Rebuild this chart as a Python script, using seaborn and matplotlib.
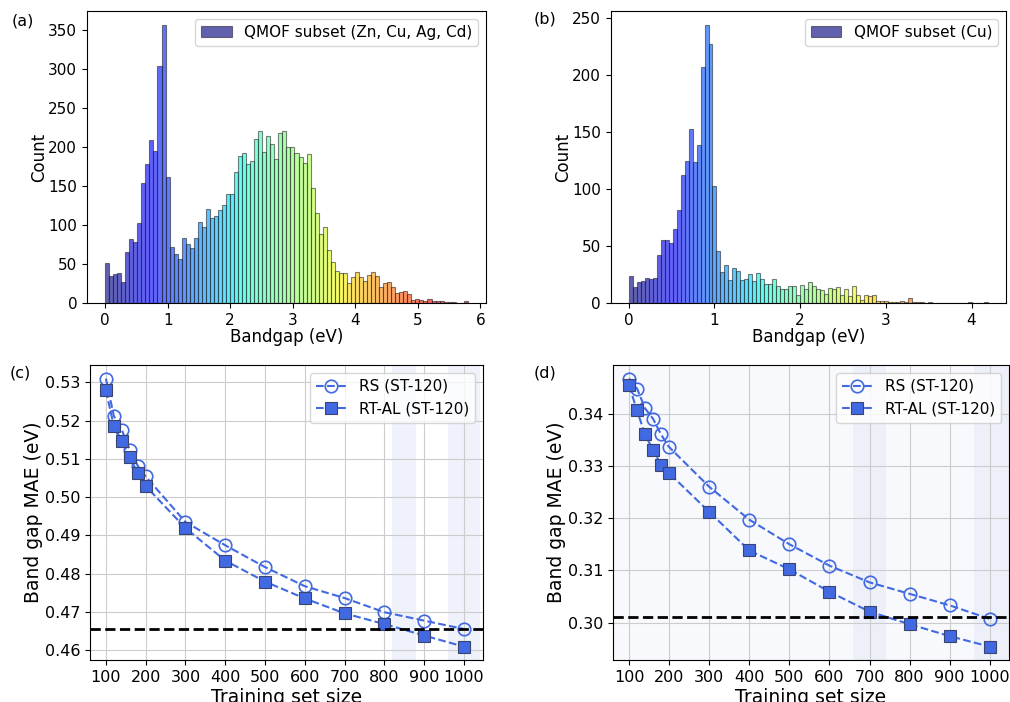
import numpy as np
import pandas as pd
import matplotlib
matplotlib.use('Agg')
import matplotlib.pyplot as plt
import seaborn as sns

# ==================== data ====================
# (a) bandgap histogram, QMOF subset (Zn, Cu, Ag, Cd): 90 bins from 0 to 5.8 eV
a_max_gap = 5.8
a_counts = [51, 35, 37, 38, 27, 66, 82, 78, 103, 154,
            178, 209, 195, 304, 357, 162, 72, 63, 57, 84,
            76, 71, 84, 104, 97, 121, 109, 112, 120, 126,
            140, 140, 168, 189, 192, 178, 182, 210, 221, 194,
            215, 204, 185, 218, 221, 200, 200, 192, 188, 180,
            191, 148, 115, 88, 97, 68, 53, 41, 38, 38,
            26, 33, 40, 34, 28, 36, 40, 35, 20, 26,
            27, 21, 13, 14, 15, 11, 4, 5, 4, 3,
            5, 3, 3, 2, 1, 1, 1, 0, 0, 2]

# (b) bandgap histogram, QMOF subset (Cu): 90 bins from 0 to 4.19 eV
b_max_gap = 4.19
b_counts = [24, 14, 18, 19, 22, 21, 22, 42, 55, 55,
            53, 65, 82, 112, 125, 153, 124, 139, 207, 244,
            227, 103, 46, 27, 33, 20, 31, 28, 20, 21,
            25, 19, 26, 21, 17, 17, 21, 15, 12, 12,
            15, 15, 7, 16, 12, 18, 15, 12, 11, 8,
            13, 12, 14, 7, 12, 6, 15, 7, 3, 7,
            6, 7, 2, 2, 2, 1, 1, 1, 2, 1,
            4, 1, 1, 1, 0, 1, 0, 0, 0, 0,
            0, 0, 0, 0, 0, 1, 0, 0, 0, 1]

# (c), (d) learning curves
train_sizes = [100, 120, 140, 160, 180, 200, 300, 400, 500, 600, 700, 800, 900, 1000]

c_rs = [0.5310, 0.5212, 0.5176, 0.5123, 0.5082, 0.5054, 0.4935,
        0.4874, 0.4817, 0.4767, 0.4736, 0.4699, 0.4677, 0.4655]
c_rtal = [0.5279, 0.5186, 0.5147, 0.5104, 0.5063, 0.5029, 0.4919,
          0.4834, 0.4779, 0.4735, 0.4696, 0.4668, 0.4638, 0.4609]
c_ref = 0.4655
c_spans = [(820, 880), (960, 1040)]

d_rs = [0.3467, 0.3448, 0.3410, 0.3390, 0.3360, 0.3336, 0.3260,
        0.3197, 0.3150, 0.3109, 0.3077, 0.3055, 0.3033, 0.3007]
d_rtal = [0.3454, 0.3406, 0.3360, 0.3330, 0.3302, 0.3286, 0.3212,
          0.3138, 0.3102, 0.3059, 0.3021, 0.2997, 0.2974, 0.2954]
d_ref = 0.3011
d_spans = [(660, 740), (960, 1060)]

# ==================== figure ====================
fig = plt.figure(figsize=(10.1, 7.02), dpi=100)
ax_a = fig.add_axes([0.0861, 0.5684, 0.3950, 0.4159])
ax_b = fig.add_axes([0.6047, 0.5684, 0.3911, 0.4159])
ax_c = fig.add_axes([0.0891, 0.0598, 0.3891, 0.4200])
ax_d = fig.add_axes([0.6069, 0.0598, 0.3921, 0.4200])

cmap = plt.get_cmap('jet')


def bandgap_hist(ax, counts, max_gap, label):
    n = len(counts)
    width = max_gap / n
    df = pd.DataFrame({'gap': (np.arange(n) + 0.5) * width, 'count': counts})
    sns.histplot(data=df, x='gap', weights='count', bins=n, binrange=(0, max_gap),
                 ax=ax, linewidth=0.8)
    bars = ax.patches
    for i, p in enumerate(bars):
        r, g, b, _ = cmap(i / (len(bars) - 1))
        p.set_facecolor((r, g, b, 0.62))
        p.set_edgecolor((0.1, 0.1, 0.1, 0.55))
    ax.legend([bars[0]], [label], loc='upper right', fontsize=11)
    ax.set_xlabel('Bandgap (eV)', fontsize=12, labelpad=0)
    ax.set_ylabel('Count', fontsize=12, labelpad=0)
    ax.tick_params(labelsize=11)


bandgap_hist(ax_a, a_counts, a_max_gap, 'QMOF subset (Zn, Cu, Ag, Cd)')
bandgap_hist(ax_b, b_counts, b_max_gap, 'QMOF subset (Cu)')


def learning_curve(ax, rs, rtal, ref, spans, bg):
    ax.set_facecolor(bg)
    for lo, hi in spans:
        ax.axvspan(lo, hi, color='#e9edf8', alpha=0.7, lw=0, zorder=0)
    sns.lineplot(x=train_sizes, y=rs, ax=ax, color='royalblue', linestyle='--',
                 linewidth=1.5, marker='o', markersize=9, markerfacecolor='none',
                 markeredgecolor='royalblue', markeredgewidth=1.2, label='RS (ST-120)')
    sns.lineplot(x=train_sizes, y=rtal, ax=ax, color='royalblue', linestyle='--',
                 linewidth=1.5, marker='s', markersize=9, markerfacecolor='royalblue',
                 markeredgecolor='#3a4470', markeredgewidth=0.8, label='RT-AL (ST-120)')
    ax.axhline(ref, color='black', linestyle='--', linewidth=2)
    ax.set_xlim(60, 1048)
    ax.set_xticks([100, 200, 300, 400, 500, 600, 700, 800, 900, 1000])
    ax.grid(True, color='#cccccc', linewidth=0.8)
    ax.set_axisbelow(True)
    ax.set_xlabel('Training set size', fontsize=13.5, labelpad=2)
    ax.set_ylabel('Band gap MAE (eV)', fontsize=13.5, labelpad=1)
    ax.tick_params(labelsize=11.5)
    ax.legend(loc='upper right', fontsize=11)


learning_curve(ax_c, c_rs, c_rtal, c_ref, c_spans, 'white')
learning_curve(ax_d, d_rs, d_rtal, d_ref, d_spans, '#f8f9fd')

# panel tags
for tag, x, y in [('(a)', 23, 21), ('(b)', 545, 19), ('(c)', 20, 373), ('(d)', 545, 373)]:
    fig.text(x / 1010, 1 - y / 702, tag, ha='center', va='center', fontsize=11.5)

fig.savefig('out.png', dpi=100)
